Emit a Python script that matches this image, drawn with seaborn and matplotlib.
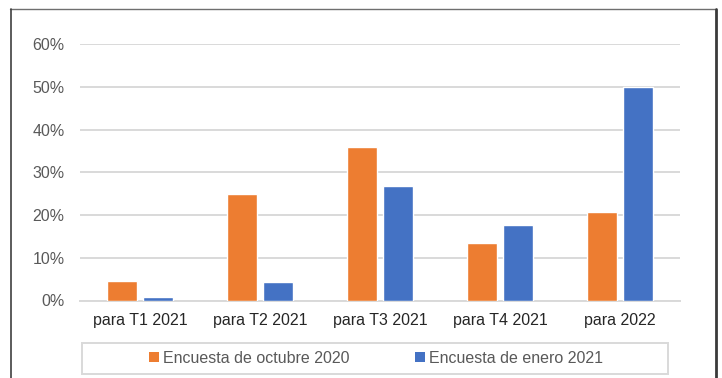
import matplotlib
matplotlib.use("Agg")
import matplotlib.pyplot as plt
import seaborn as sns
import pandas as pd
from matplotlib.lines import Line2D
from matplotlib.patches import Rectangle
from matplotlib.ticker import PercentFormatter

categories = ["para T1 2021", "para T2 2021", "para T3 2021", "para T4 2021", "para 2022"]
series_names = ["Encuesta de octubre 2020", "Encuesta de enero 2021"]
oct_2020 = [4.6, 25.0, 35.9, 13.4, 20.7]
ene_2021 = [0.9, 4.3, 26.7, 17.7, 50.0]
y_ticks = [0, 10, 20, 30, 40, 50, 60]

df = pd.DataFrame({
    "cat": categories * 2,
    "serie": [series_names[0]] * len(categories) + [series_names[1]] * len(categories),
    "val": oct_2020 + ene_2021,
})

sns.set_theme(style="white")
plt.rcParams["font.family"] = ["Liberation Sans", "DejaVu Sans"]

W, H = 722, 378
fig = plt.figure(figsize=(W / 100, H / 100), dpi=100)
ax = fig.add_axes([80 / W, (H - 300.5) / H, 600 / W, 256.5 / H])

palette = {series_names[0]: "#ED7D31", series_names[1]: "#4472C4"}
sns.barplot(data=df, x="cat", y="val", hue="serie", palette=palette,
            width=0.6, gap=0.15, ax=ax, legend=False, saturation=1, zorder=3)

ax.set_ylim(0, 60)
ax.set_xlim(-0.5, len(categories) - 0.5)
ax.set_yticks(y_ticks)
ax.yaxis.set_major_formatter(PercentFormatter(decimals=0))
ax.grid(axis="y", color="#d9d9d9", linewidth=1.4, zorder=0)
ax.set_axisbelow(True)
for s in ["top", "right", "left"]:
    ax.spines[s].set_visible(False)
ax.spines["bottom"].set_color("#d9d9d9")
ax.spines["bottom"].set_linewidth(1.4)
ax.set_xlabel("")
ax.set_ylabel("")
ax.tick_params(axis="y", length=0, pad=11, labelsize=11.5, labelcolor="#595959")
ax.tick_params(axis="x", length=0, pad=9, labelsize=11.5, labelcolor="#262626")

# legend
handles = [Rectangle((0, 0), 1, 1, facecolor=palette[n], edgecolor="none") for n in series_names]
fig.legend(handles, series_names, loc="center", bbox_to_anchor=(376 / W, (H - 358.5) / H),
           ncol=2, frameon=False, fontsize=11.5, labelcolor="#595959",
           handlelength=0.6, handleheight=0.6, handletextpad=0.25, columnspacing=4.1)
fig.add_artist(Rectangle((82 / W, (H - 374) / H), 586 / W, 31 / H, transform=fig.transFigure,
                         facecolor="none", edgecolor="#d9d9d9", linewidth=1.4))

# outer frame lines
fig.add_artist(Line2D([10 / W, 715 / W], [(H - 9) / H, (H - 9) / H], transform=fig.transFigure,
                      color="#6f6f6f", linewidth=1.0))
fig.add_artist(Line2D([10.5 / W, 10.5 / W], [0, (H - 9) / H], transform=fig.transFigure,
                      color="#404040", linewidth=1.2))
fig.add_artist(Line2D([715.5 / W, 715.5 / W], [0, (H - 9) / H], transform=fig.transFigure,
                      color="#3a3a3a", linewidth=2.0))

fig.savefig("out.png", dpi=100)
